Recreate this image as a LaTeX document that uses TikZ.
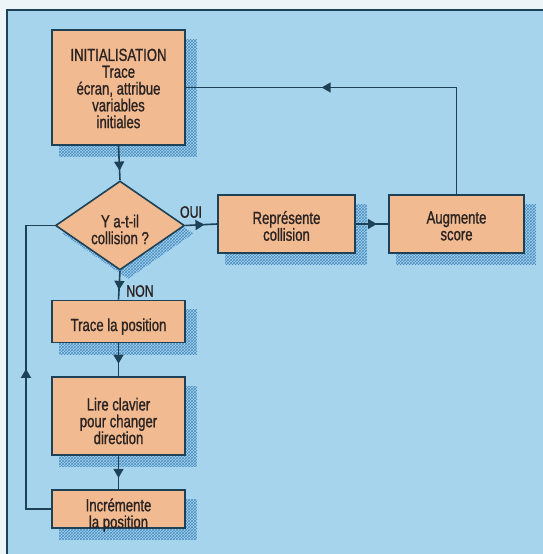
\documentclass[tikz,border=0pt]{standalone}
\usepackage{fontspec}
\setmainfont{Liberation Sans}
\newfontfamily\condfont[FakeStretch=0.75,FakeBold=1]{Liberation Sans}
\newcommand\boxfont{\condfont\fontsize{17.5}{16.8}\selectfont\lineskiplimit=-20pt\relax}
\usetikzlibrary{shapes.geometric,patterns,decorations.markings,arrows.meta}
\definecolor{bgblue}{HTML}{A7D4ED}
\definecolor{paper}{HTML}{EEF5F8}
\definecolor{linecol}{HTML}{1D4257}
\definecolor{boxfill}{HTML}{F1BA90}
\definecolor{shadecol}{HTML}{4A8DC2}
\definecolor{txt}{HTML}{2A2322}
\pgfdeclarelayer{bglayer}
\pgfdeclarelayer{shadowlayer}
\pgfsetlayers{bglayer,shadowlayer,main}
\tikzset{
  box/.style={draw=linecol, line width=1.6pt, fill=boxfill, inner sep=0pt},
  boxtext/.style={align=center, inner sep=0pt, text=txt, font=\boxfont},
  conn/.style={draw=linecol, line width=1.6pt},
  marr/.style={postaction={decorate}, decoration={markings,
    mark=at position #1 with {\arrow{Triangle[width=10pt,length=9pt]}}}},
  lbl/.style={font=\condfont\fontsize{16.5}{18}\selectfont, text=txt, inner sep=0pt},
  shade/.style={pattern=crosshatch, pattern color=shadecol}
}
\begin{document}
\begin{tikzpicture}[x=1pt,y=-1pt]
\useasboundingbox (0,0) rectangle (543,554);
\begin{pgfonlayer}{bglayer}
\fill[paper] (0,0) rectangle (543,554);
\fill[bgblue] (7,10) rectangle (543,554);
\draw[linecol, line width=1.4pt] (7,554) -- (7,10) -- (543,10);
\end{pgfonlayer}

\node[box, minimum width=133pt, minimum height=115pt,
  label={[boxtext, yshift=-1pt]center:{INITIALISATION\\Trace\\écran, attribue\\variables\\initiales}}] (init) at (118.5,87.5) {};
\node[box, diamond, minimum width=129pt, minimum height=89pt,
  label={[boxtext, yshift=-4pt]center:{Y a-t-il\\collision ?}}] (diam) at (120,225.5) {};
\node[box, minimum width=137pt, minimum height=58pt,
  label={[boxtext, yshift=-2pt]center:{Représente\\collision}}] (rep) at (286.5,224) {};
\node[box, minimum width=135pt, minimum height=58pt,
  label={[boxtext, yshift=-2pt]center:{Augmente\\score}}] (aug) at (456.5,224) {};
\node[box, minimum width=133pt, minimum height=42pt,
  label={[boxtext, yshift=-5pt]center:{Trace la position}}] (trace) at (118.5,321.5) {};
\node[box, minimum width=133pt, minimum height=78pt,
  label={[boxtext, yshift=-5pt]center:{Lire clavier\\pour changer\\direction}}] (lire) at (118.5,416) {};
\node[box, minimum width=133pt, minimum height=38pt,
  label={[boxtext, yshift=-6pt]center:{Incrémente\\la position}}] (incr) at (118.5,509) {};

\begin{pgfonlayer}{shadowlayer}
\foreach \n in {init,rep,aug,trace,lire,incr}{
  \fill[shade] ([shift={(8,10)}]\n.north west) rectangle ([shift={(11,11)}]\n.south east);
}
\fill[shade] ([shift={(8,8)}]diam.north) -- ([shift={(8,8)}]diam.east) -- ([shift={(8,8)}]diam.south) -- ([shift={(8,8)}]diam.west) -- cycle;
\end{pgfonlayer}

\draw[conn, marr=0.72] (init.south) -- (diam.north);
\draw[conn, marr=0.6] (diam.east) -- (rep.west);
\draw[conn, marr=0.65] (rep.east) -- (aug.west);
\draw[conn, marr=0.64] (aug.north) |- (init.east);
\draw[conn, marr=0.66] (diam.south) -- (trace.north);
\draw[conn, marr=0.62] (trace.south) -- (lire.north);
\draw[conn, marr=0.66] (lire.south) -- (incr.north);
\coordinate (lb) at (26,509);
\coordinate (lt) at (26,225.5);
\draw[conn, marr=0.49] (incr.west) -- (lb) -- (lt) -- (diam.west);

\node[lbl] (oui) at (191,212) {OUI};
\node[lbl] (non) at (140,291) {NON};
\end{tikzpicture}
\end{document}
